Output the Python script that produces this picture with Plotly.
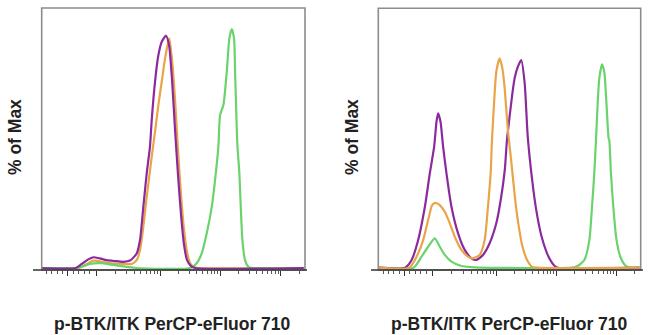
import plotly.graph_objects as go

W, H = 650, 335

# ---------------- data (x in log-decade display units, y in % of max) ----------------
L_purple_x = [1.04, 1.60, 1.70, 1.80, 1.89, 2.00, 2.11, 2.25, 2.39, 2.50, 2.61, 2.665, 2.72, 2.776,
              2.83, 2.859, 2.914, 2.969, 3.025, 3.096, 3.146, 3.196, 3.246, 3.295, 3.345, 3.395,
              3.445, 3.511, 3.577, 5.38]
L_purple_y = [0, 0, 1.7, 3.5, 4.5, 4.0, 3.3, 2.9, 2.6, 3.1, 6.1, 11.7, 25.6, 39.6,
              50.8, 62.0, 78.0, 89.0, 94.7, 97.2, 93.3, 78.7, 57.7, 38.9, 22.2, 9.6,
              3.3, 0.8, 0, 0]

L_orange_x = [1.04, 1.65, 1.725, 1.891, 2.113, 2.388, 2.527, 2.61, 2.665, 2.72, 2.776, 2.859,
              2.914, 2.969, 3.025, 3.08, 3.135, 3.151, 3.196, 3.246, 3.295, 3.345, 3.395, 3.445,
              3.494, 3.56, 3.627, 5.38]
L_orange_y = [0, 0, 0.8, 3.1, 2.2, 1.7, 1.7, 3.3, 7.5, 17.3, 29.8, 46.6,
              57.0, 68.2, 78.0, 87.7, 94.7, 96.1, 87.0, 70.3, 49.4, 30.5, 15.9, 6.7,
              2.1, 0.4, 0, 0]

L_green_x = [1.04, 1.60, 1.70, 1.836, 2.002, 2.222, 2.445, 2.60, 3.50, 3.605, 3.688, 3.771,
             3.854, 3.909, 3.964, 3.992, 4.047, 4.103, 4.146, 4.186, 4.224, 4.241, 4.257, 4.279,
             4.312, 4.335, 4.362, 4.406, 4.461, 4.52, 5.38]
L_green_y = [0, 0, 0.5, 1.7, 2.0, 1.3, 0.5, 0, 0, 2.0, 6.1, 14.5,
             25.6, 36.8, 50.8, 64.0, 68.2, 82.1, 96.1, 100.0, 96.1, 82.1, 68.2, 51.5,
             39.6, 25.6, 11.7, 3.3, 0.5, 0, 0]

R_purple_x = [1.04, 1.48, 1.589, 1.698, 1.81, 1.892, 1.964, 2.003, 2.03, 2.07, 2.113, 2.169,
              2.252, 2.362, 2.473, 2.584, 2.667, 2.776, 2.887, 2.998, 3.08, 3.14, 3.175, 3.21,
              3.26, 3.302, 3.357, 3.413, 3.47, 3.52, 3.59, 3.66, 3.75, 3.84, 3.90, 3.97, 4.03, 5.38]
R_purple_y = [0, 0, 3.7, 13.2, 29.1, 45.1, 57.8, 69.7, 73.7, 69.7, 57.8, 45.1,
              29.1, 16.4, 8.5, 4.5, 3.7, 6.1, 11.7, 21.2, 33.9, 47.0, 61.0, 70.0,
              82.0, 90.4, 96.0, 99.2, 88.0, 63.0, 43.0, 28.0, 15.0, 7.0, 3.5, 0.8, 0, 0]

R_orange_x = [1.04, 1.55, 1.672, 1.781, 1.864, 1.931, 1.987, 2.058, 2.141, 2.224, 2.307, 2.418,
              2.527, 2.61, 2.722, 2.804, 2.859, 2.904, 2.926, 2.959, 2.998, 3.053, 3.10, 3.136,
              3.19, 3.25, 3.31, 3.37, 3.43, 3.51, 3.59, 3.67, 5.38]
R_orange_y = [0, 0, 5.3, 13.2, 22.8, 29.9, 31.0, 29.9, 26.7, 21.2, 14.8, 8.5,
              5.3, 4.5, 6.1, 13.2, 29.1, 45.1, 61.0, 77.7, 93.6, 100.0, 95.0, 86.0,
              66.0, 50.0, 33.0, 20.0, 10.5, 3.7, 0.5, 0, 0]

R_green_x = [1.04, 1.62, 1.755, 1.864, 1.975, 2.058, 2.141, 2.252, 2.418, 2.638, 4.25, 4.352,
             4.463, 4.546, 4.59, 4.628, 4.656, 4.683, 4.711, 4.756, 4.794, 4.832, 4.866, 4.877,
             4.905, 4.944, 4.998, 5.071, 5.154, 5.237, 5.38]
R_green_y = [0, 0, 5.3, 10.0, 14.0, 10.0, 6.1, 2.9, 0.8, 0.2, 0, 0.8,
             3.7, 13.2, 29.1, 45.1, 61.0, 77.7, 90.4, 97.1, 93.6, 77.7, 61.8, 61.0,
             45.1, 29.1, 13.2, 4.5, 0.8, 0, 0]

X_TITLE = "p-BTK/ITK PerCP-eFluor 710"
Y_TITLE = "% of Max"

MAJOR_TICKS = [1.466, 1.939, 3, 4, 5]
MINOR_TICKS = [1.12, 1.20, 1.29, 1.38, 1.56, 1.65, 1.74, 1.83,
               2.26, 2.445, 2.58, 2.68, 2.765, 2.836, 2.897, 2.95,
               3.301, 3.477, 3.602, 3.699, 3.778, 3.845, 3.903, 3.954,
               4.301, 4.477, 4.602, 4.699, 4.778, 4.845, 4.903, 4.954, 5.301]

PURPLE = "#8B2A9E"
ORANGE = "#E9A448"
GREEN = "#6BD36B"

# ---------------- figure ----------------
fig = go.Figure()

panels = [
    ("x", "y", [(L_orange_x, L_orange_y, ORANGE), (L_green_x, L_green_y, GREEN),
                (L_purple_x, L_purple_y, PURPLE)]),
    ("x2", "y2", [(R_green_x, R_green_y, GREEN), (R_purple_x, R_purple_y, PURPLE),
                  (R_orange_x, R_orange_y, ORANGE)]),
]
for xa, ya, series in panels:
    for xs, ys, col in series:
        fig.add_trace(go.Scatter(x=xs, y=ys, xaxis=xa, yaxis=ya, mode="lines",
                                 line=dict(color=col, width=2.2, shape="spline", smoothing=0.6),
                                 showlegend=False, hoverinfo="skip"))

def px(v):
    return v / W

def py(v):
    return 1 - v / H

box = {
    "L": (41.7, 305.0, 8.0, 270.0),
    "R": (378.3, 640.7, 8.3, 270.0),
}

def xaxis_cfg(dom):
    return dict(domain=dom, range=[1.035, 5.4], showgrid=False, zeroline=False, showline=False,
                showticklabels=False, ticks="outside", tickmode="array", tickvals=MAJOR_TICKS,
                ticklen=5, tickwidth=1.3, tickcolor="#333333",
                minor=dict(tickmode="array", tickvals=MINOR_TICKS, ticks="outside",
                           ticklen=3, tickwidth=1.1, tickcolor="#555555"))

def yaxis_cfg(dom, rng, anchor):
    return dict(domain=dom, range=rng, showgrid=False, zeroline=False, showline=False,
                showticklabels=False, ticks="", anchor=anchor)

lb, rb = box["L"], box["R"]
fig.update_layout(
    width=W, height=H, margin=dict(l=0, r=0, t=0, b=0),
    paper_bgcolor="white", plot_bgcolor="white",
    xaxis=dict(**xaxis_cfg([px(lb[0]), px(lb[1])]), anchor="y"),
    yaxis=yaxis_cfg([py(lb[3]), py(lb[2])], [-0.84, 108.8], "x"),
    xaxis2=dict(**xaxis_cfg([px(rb[0]), px(rb[1])]), anchor="y2"),
    yaxis2=yaxis_cfg([py(rb[3]), py(rb[2])], [-1.1, 123.9], "x2"),
)

shapes = []
for (x0, x1, y0, y1), (ax0, ax1) in [(lb, (33, 307)), (rb, (371, 643))]:
    shapes.append(dict(type="rect", xref="paper", yref="paper", x0=px(x0), x1=px(x1),
                       y0=py(y1), y1=py(y0), line=dict(color="#8c8c8c", width=1.6),
                       layer="above"))
    shapes.append(dict(type="line", xref="paper", yref="paper", x0=px(ax0), x1=px(ax1),
                       y0=py(y1), y1=py(y1), line=dict(color="#333333", width=1.4),
                       layer="above"))
fig.update_layout(shapes=shapes)

font = dict(family="Liberation Sans, Arial, sans-serif", size=17.5, color="#222222",
            weight="bold")
ann = []
for cx in (172.5, 509):
    ann.append(dict(text=X_TITLE, xref="paper", yref="paper", x=px(cx), y=py(324),
                    xanchor="center", yanchor="middle", showarrow=False, font=font))
for cx in (15, 352):
    ann.append(dict(text=Y_TITLE, xref="paper", yref="paper", x=px(cx), y=py(137),
                    xanchor="center", yanchor="middle", showarrow=False, textangle=-90,
                    font=font))
fig.update_layout(annotations=ann)

fig.write_html("out.html")
